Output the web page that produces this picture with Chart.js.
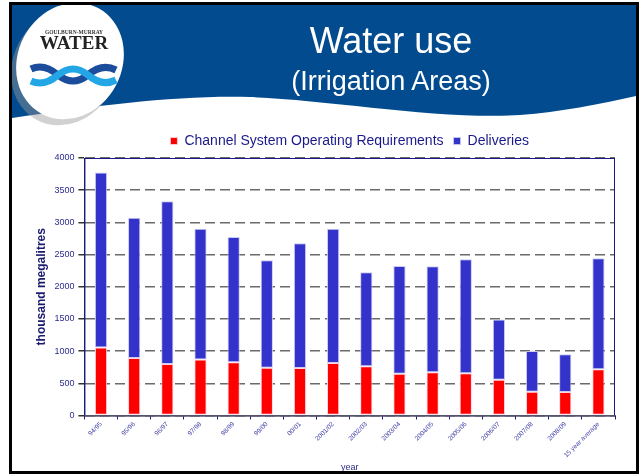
<!DOCTYPE html>
<html>
<head>
<meta charset="utf-8">
<script src="https://cdn.jsdelivr.net/npm/chart.js@4.4.1/dist/chart.umd.min.js"></script>
<style>
  body { margin: 0; width: 640px; height: 474px; position: relative; overflow: hidden; background: #fff; }
  #marco { position: absolute; left: 9px; top: 2px; width: 624px; height: 466px; border: 3px solid #000; pointer-events: none; z-index: 5; }
  #cabecera { position: absolute; left: 0; top: 0; z-index: 2; }
  #contenedor { position: absolute; left: 28px; top: 124px; width: 646px; height: 350px; z-index: 1; }
</style>
</head>
<body>

<svg id="cabecera" width="640" height="130">
  <path d="M12,5 H636 V96 C600,104 560,112 520,115 C440,120 330,100 250,97 C180,95 100,105 12,118 Z" fill="#034b8f"/>
  <ellipse cx="65" cy="67" rx="52" ry="60" fill="#9a9a9a" opacity="0.45" transform="rotate(28 65 67)"/>
  <ellipse cx="70" cy="61" rx="52" ry="60" fill="#ffffff" transform="rotate(28 70 61)"/>
  <text x="74" y="34" font-family="Liberation Serif, serif" font-weight="bold" font-size="5.5" fill="#333" text-anchor="middle">GOULBURN-MURRAY</text>
  <text x="74" y="49" font-family="Liberation Serif, serif" font-weight="bold" font-size="19" fill="#222" text-anchor="middle">WATER</text>
  <path d="M31,69 Q44,63 58,75 Q73,87 88,75 Q102,63 116,70" fill="none" stroke="#1c4c9c" stroke-width="7"/>
  <path d="M31,81 Q44,87 58,75 Q73,63 88,75 Q102,87 116,80" fill="none" stroke="#22a6e6" stroke-width="7"/>
  <text x="391" y="53" font-family="Liberation Sans, Arial" font-size="36" fill="#fff" text-anchor="middle">Water use</text>
  <text x="391" y="90" font-family="Liberation Sans, Arial" font-size="27" fill="#fff" text-anchor="middle">(Irrigation Areas)</text>
</svg>

<div id="contenedor"><canvas id="graficoAgua" width="646" height="350"></canvas></div>
<div id="marco"></div>

<script>
//Datos del grafico
var anios = ['94/95', '95/96', '96/97', '97/98', '98/99', '99/00', '00/01', '2001/02', '2002/03',
             '2003/04', '2004/05', '2005/06', '2006/07', '2007/08', '2008/09', '15 year average'];
var requerimientos = [1055, 893, 800, 868, 826, 743, 737, 815, 764, 650, 670, 655, 556, 369, 363, 717];
var entregas = [2721, 2177, 2530, 2031, 1948, 1668, 1939, 2085, 1460, 1672, 1647, 1771, 935, 633, 587, 1725];
var ticksY = [0, 500, 1000, 1500, 2000, 2500, 3000, 3500, 4000];

var azulTexto = "#2b2b8f";

//Borde del area del grafico y leyenda centrada sobre el area
var bordeArea = {
    id: 'bordeArea',
    afterLayout: function(chart) {
        var a = chart.chartArea;
        var leyenda = chart.legend;
        var mover = (a.left + a.right) / 2 - (leyenda.left + leyenda.right) / 2;
        leyenda.left += mover;
        leyenda.right += mover;
        leyenda.legendHitBoxes.forEach(function(caja) { caja.left += mover; });
    },
    afterDraw: function(chart) {
        var ctx = chart.ctx;
        var a = chart.chartArea;
        ctx.save();
        ctx.lineWidth = 1;
        ctx.strokeStyle = "#1a1a80";
        ctx.strokeRect(a.left + 0.5, a.top + 0.5, a.right - a.left - 1, a.bottom - a.top);
        ctx.strokeStyle = "#666";
        ctx.beginPath();
        ctx.moveTo(a.left, a.bottom + 0.5);
        ctx.lineTo(a.right, a.bottom + 0.5);
        ctx.stroke();
        ctx.restore();
    }
};

var getGraficoAgua = document.getElementById("graficoAgua");
var graficoAgua = new Chart(getGraficoAgua, {
    type: 'bar',
    plugins: [bordeArea],
    data: {
        labels: anios,
        datasets: [
            {
                label: "Channel System Operating Requirements",
                data: requerimientos,
                backgroundColor: "#ff0000",
                borderColor: "rgba(255,210,220,0.9)",
                borderWidth: 1,
                borderSkipped: false
            },
            {
                label: "Deliveries",
                data: entregas,
                backgroundColor: "#3333cc",
                borderColor: "rgba(200,200,240,0.9)",
                borderWidth: 1,
                borderSkipped: false
            }]
    },
    options: {
        responsive: false,
        animation: false,
        barPercentage: 0.37,
        categoryPercentage: 1,
        layout: {
            padding: { left: 2, right: 59, top: 0, bottom: 1 }
        },
        scales: {
            x: {
                stacked: true,
                grid: {
                    display: true,
                    drawOnChartArea: false,
                    tickLength: 4,
                    tickColor: "#1a1a80"
                },
                border: { color: "#666" },
                ticks: {
                    minRotation: 45,
                    maxRotation: 45,
                    color: "#4040a8",
                    font: { family: "Liberation Sans, Arial", size: 6.5 },
                    padding: 1
                },
                title: {
                    display: true,
                    text: 'year',
                    color: azulTexto,
                    font: { family: "Liberation Sans, Arial", size: 9 },
                    padding: { top: 2, bottom: 0 }
                }
            },
            y: {
                stacked: true,
                min: 0,
                max: 4000,
                afterBuildTicks: function(axis) {
                    axis.ticks = ticksY.map(function(v) { return { value: v }; });
                },
                grid: {
                    color: "#6a6a6a",
                    lineWidth: 1.5,
                    tickLength: 6,
                    tickColor: "#333",
                    tickBorderDash: []
                },
                border: { color: "#1a1a80", dash: [10, 5] },
                ticks: {
                    color: azulTexto,
                    font: { family: "Liberation Sans, Arial", size: 9 },
                    padding: 4,
                    callback: function(valor) { return String(valor); }
                },
                title: {
                    display: true,
                    text: 'thousand megalitres',
                    color: "#1a1a6e",
                    font: { family: "Liberation Sans, Arial", size: 12, weight: 'bold' },
                    padding: { top: 4, bottom: 2 }
                }
            }
        },
        plugins: {
            legend: {
                display: true,
                position: 'top',
                labels: {
                    boxWidth: 7,
                    boxHeight: 7,
                    padding: 10,
                    color: "#1a1a8c",
                    font: { family: "Liberation Sans, Arial", size: 14 }
                }
            },
            tooltip: { enabled: false },
            title: { display: false }
        }
    }
});
</script>
</body>
</html>
